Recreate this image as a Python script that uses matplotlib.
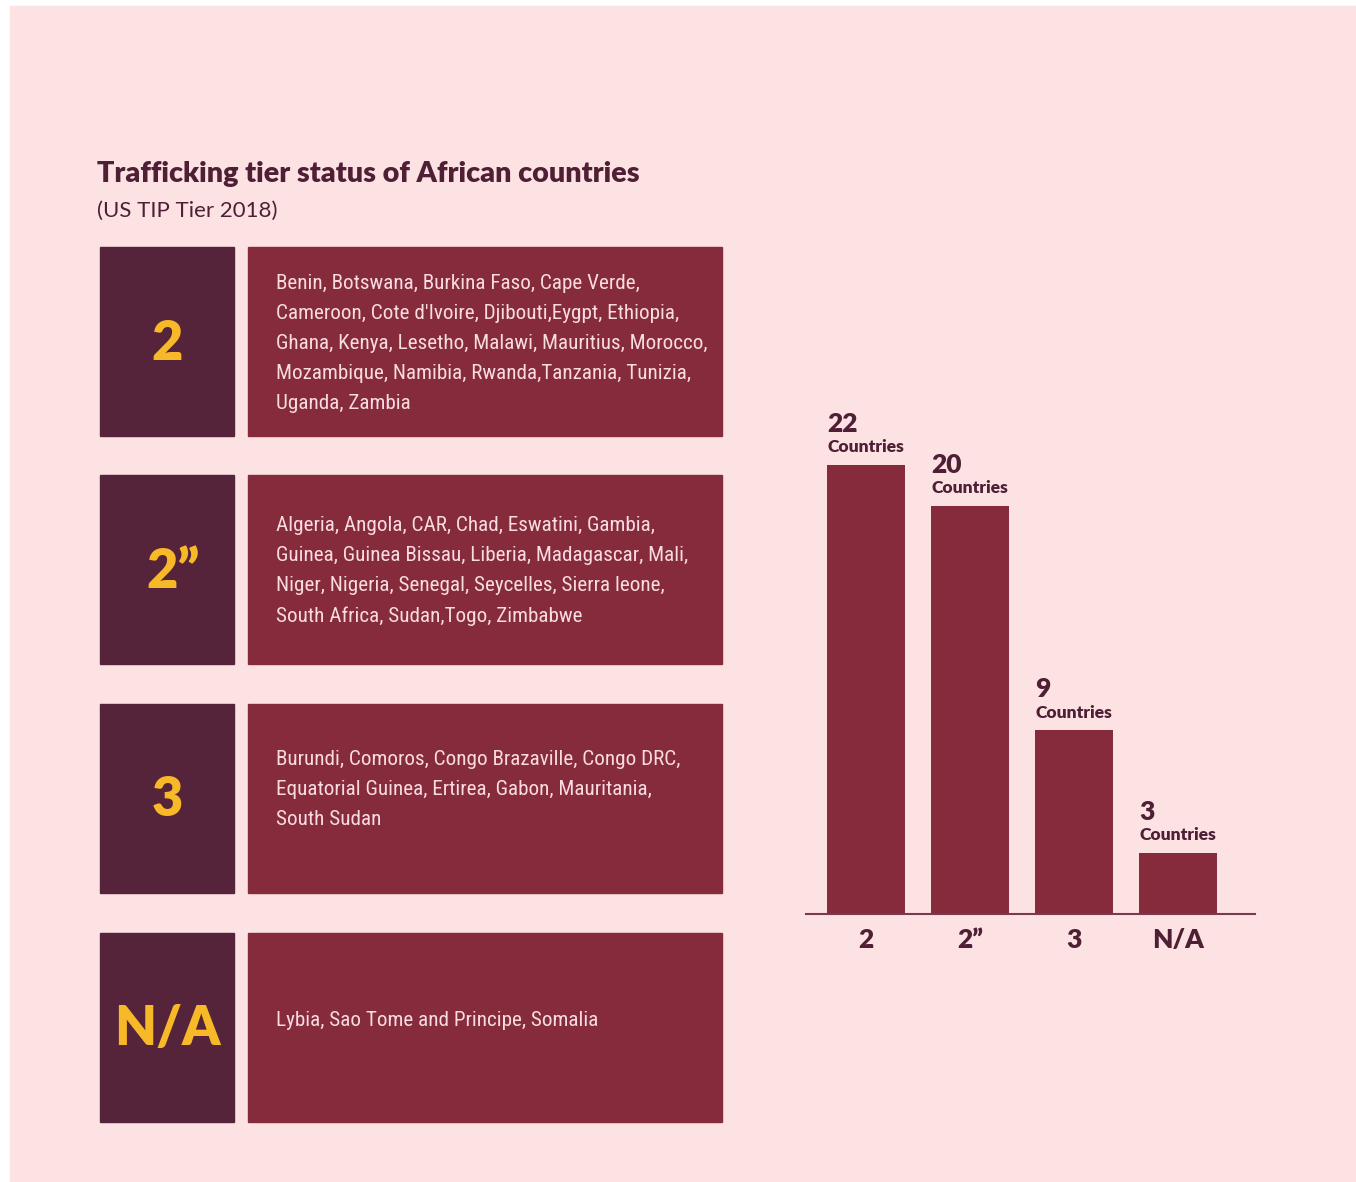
import matplotlib
matplotlib.use("Agg")
import matplotlib.pyplot as plt
from matplotlib.patches import Rectangle
from matplotlib import font_manager

# ---------------- data ----------------
tiers = ["2", "2\u201d", "3", "N/A"]
counts = [22, 20, 9, 3]
count_unit = "Countries"
country_lines = [
    ["Benin, Botswana, Burkina Faso, Cape Verde,",
     "Cameroon, Cote d'Ivoire, Djibouti,Eygpt, Ethiopia,",
     "Ghana, Kenya, Lesetho, Malawi, Mauritius, Morocco,",
     "Mozambique, Namibia, Rwanda,Tanzania, Tunizia,",
     "Uganda, Zambia"],
    ["Algeria, Angola, CAR, Chad, Eswatini, Gambia,",
     "Guinea, Guinea Bissau, Liberia, Madagascar, Mali,",
     "Niger, Nigeria, Senegal, Seycelles, Sierra leone,",
     "South Africa, Sudan,Togo, Zimbabwe"],
    ["Burundi, Comoros, Congo Brazaville, Congo DRC,",
     "Equatorial Guinea, Ertirea, Gabon, Mauritania,",
     "South Sudan"],
    ["Lybia, Sao Tome and Principe, Somalia"],
]
title = "Trafficking tier status of African countries"
subtitle = "(US TIP Tier 2018)"

# ---------------- style ----------------
W, H = 1356, 1182
BG = "#FDE2E4"
DARK = "#55243A"
BOX = "#862B3C"
YELLOW = "#F7B928"
TXT = "#4E1F35"
LIGHT = "#F8DCE0"
HEAD_FONT = ["Lato", "DejaVu Sans"]

installed = {f.name for f in font_manager.fontManager.ttflist}
body_choice = None
for cand in ["Roboto Condensed", "Open Sans Condensed", "Liberation Sans Narrow",
             "Noto Sans Condensed", "Lato"]:
    if cand in installed:
        body_choice = cand
        break
BODY_FONT = [body_choice or "Lato", "DejaVu Sans"]
body_size = 15.2 if body_choice not in (None, "Lato") else 14.5

fig = plt.figure(figsize=(W / 100, H / 100), dpi=100, facecolor="white")

bg = fig.add_axes([0, 0, 1, 1])
bg.set_xlim(0, W)
bg.set_ylim(H, 0)
bg.axis("off")
bg.add_patch(Rectangle((10, 6), W - 10, H - 6, color=BG, zorder=0))

bg.text(97, 174, title, fontsize=20.7, fontweight="heavy", color=TXT,
        family=HEAD_FONT, va="center", ha="left")
bg.text(97, 211, subtitle, fontsize=16, color=TXT,
        family=HEAD_FONT, va="center", ha="left")

row_tops = [247, 475, 704, 933]
row_h = 189
shifts = [2, 1, -9, -7]
for i, top in enumerate(row_tops):
    bg.add_patch(Rectangle((100, top), 134, row_h, color=DARK, zorder=1))
    bg.add_patch(Rectangle((248, top), 474, row_h, color=BOX, zorder=1))
    cx = 167 if i != 1 else 173
    bg.text(cx, top + row_h / 2 + 2, tiers[i], fontsize=39, fontweight="heavy",
            color=YELLOW, family=HEAD_FONT, ha="center", va="center", zorder=2)
    lines = country_lines[i]
    n = len(lines)
    cy = top + row_h / 2 + shifts[i]
    for j, ln in enumerate(lines):
        y = cy + (j - (n - 1) / 2) * 30.2
        bg.text(276, y, ln, fontsize=body_size, color=LIGHT, family=BODY_FONT,
                ha="left", va="center", zorder=2)

# ---------------- bar chart ----------------
base_px = 914
top_px = 380
x_left, x_right = 806, 1255
ax = fig.add_axes([x_left / W, (H - base_px) / H,
                   (x_right - x_left) / W, (base_px - top_px) / H])
ax.patch.set_alpha(0)
px_per_unit = 20.4
ax.set_ylim(0, (base_px - top_px) / px_per_unit)
ax.set_xlim(-0.577, 3.74)
xs = list(range(len(tiers)))
bw = 0.75
ax.bar(xs, counts, width=bw, color=BOX, zorder=2)
for s in ["top", "right", "left"]:
    ax.spines[s].set_visible(False)
ax.spines["bottom"].set_color("#7A3A4E")
ax.spines["bottom"].set_linewidth(1.5)
ax.set_yticks([])
ax.set_xticks(xs)
ax.set_xticklabels(tiers, fontsize=19, fontweight="heavy", color=TXT,
                   family=HEAD_FONT)
ax.tick_params(axis="x", length=0, pad=10)

for x, v in zip(xs, counts):
    ax.annotate(count_unit, (x - bw / 2, v), xytext=(0, 7),
                textcoords="offset points", ha="left", va="bottom",
                fontsize=12.5, fontweight="heavy", color=TXT, family=HEAD_FONT)
    ax.annotate(str(v), (x - bw / 2, v), xytext=(0, 21),
                textcoords="offset points", ha="left", va="bottom",
                fontsize=19, fontweight="heavy", color=TXT, family=HEAD_FONT)

fig.savefig("out.png", dpi=100, facecolor=fig.get_facecolor())
